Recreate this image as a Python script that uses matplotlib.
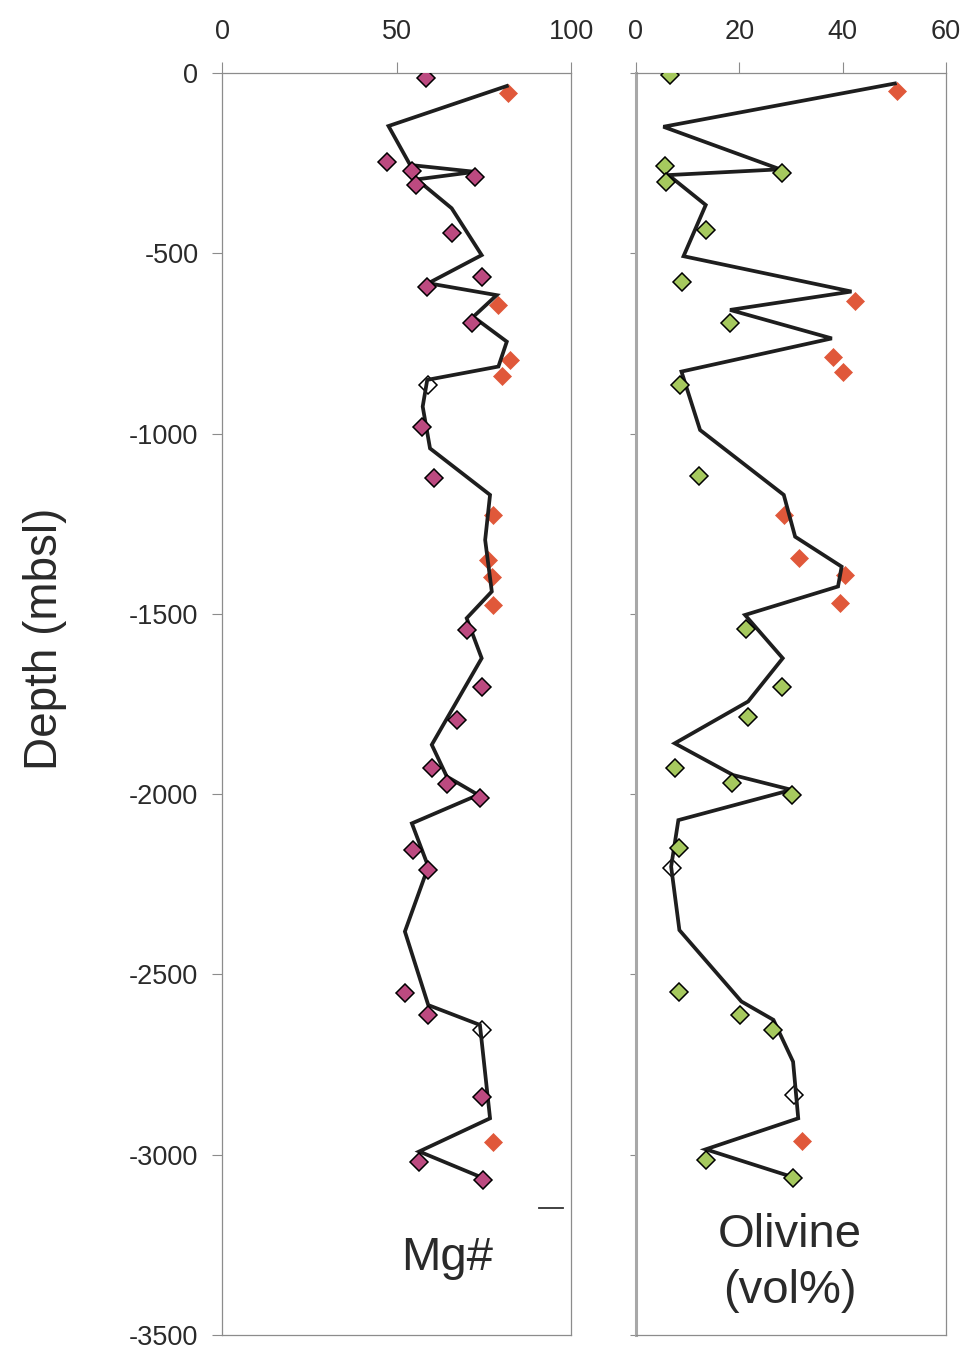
import matplotlib
matplotlib.use("Agg")
import matplotlib.pyplot as plt

plt.rcParams['font.family'] = ['Liberation Sans', 'DejaVu Sans']

# Mg# of whole-rock samples (filled pink), samples with open symbols, and
# high-Mg samples (red); depths in metres below sea level (negative)
mg_depth = [-13, -248, -272, -287, -311, -443, -565, -593, -694, -981, -1124,
            -1545, -1702, -1794, -1928, -1972, -2011, -2155, -2210, -2552,
            -2612, -2839, -3019, -3070]
mg_value = [58.4, 47.4, 54.5, 72.5, 55.5, 65.8, 74.4, 58.6, 71.5, 57.2, 60.6,
            70.1, 74.4, 67.2, 60.1, 64.4, 73.9, 54.6, 59.1, 52.4,
            59.1, 74.4, 56.5, 74.9]
mg_open_depth = [-865, -2654]
mg_open_value = [59.1, 74.4]
mg_red_depth = [-56, -643, -796, -839, -1226, -1350, -1397, -1475, -2964]
mg_red_value = [82.0, 79.2, 82.5, 80.1, 77.7, 76.3, 77.3, 77.7, 77.7]

# Mg# trend line
mg_line_depth = [-36, -147, -255, -274, -295, -375, -505, -583, -616, -676,
                 -745, -814, -851, -925, -1041, -1170, -1295, -1438, -1512,
                 -1623, -1863, -1951, -2002, -2081, -2201, -2381, -2585,
                 -2640, -2899, -2991, -3065]
mg_line_value = [81.6, 47.7, 53.9, 72.5, 55.8, 65.8, 74.4, 59.1, 78.7, 72.0,
                 81.6, 79.2, 58.8, 57.5, 59.6, 76.8, 75.4, 77.3, 70.1,
                 74.4, 60.1, 64.4, 73.4, 54.4, 59.1, 52.4, 59.1,
                 73.9, 76.8, 56.5, 74.9]

# Olivine modal abundance (vol%)
ol_depth = [-6, -258, -276, -301, -435, -580, -692, -865, -1118, -1543,
            -1702, -1787, -1928, -1968, -2002, -2150, -2550, -2612, -2654,
            -3014, -3065]
ol_value = [6.6, 5.6, 28.2, 5.9, 13.5, 9.0, 18.2, 8.5, 12.2, 21.3,
            28.2, 21.7, 7.5, 18.5, 30.1, 8.4, 8.4, 20.2, 26.6,
            13.5, 30.3]
ol_open_depth = [-2206, -2834]
ol_open_value = [6.9, 30.6]
ol_red_depth = [-49, -631, -787, -828, -1226, -1346, -1392, -1469, -2961]
ol_red_value = [50.6, 42.4, 38.2, 40.0, 28.6, 31.6, 40.4, 39.5, 32.1]

# Olivine trend line
ol_line_depth = [-29, -149, -267, -283, -366, -508, -606, -657, -736, -828,
                 -990, -1170, -1286, -1369, -1424, -1503, -1623, -1743,
                 -1859, -1947, -1988, -2072, -2201, -2377, -2575, -2626,
                 -2742, -2899, -2985, -3061]
ol_line_value = [50.1, 5.3, 27.9, 6.3, 13.5, 9.2, 41.7, 18.2, 37.9, 8.8,
                 12.4, 28.6, 30.8, 39.8, 39.1, 21.1, 28.4, 21.7,
                 7.5, 18.8, 30.1, 8.2, 6.8, 8.4, 20.4, 26.6,
                 30.4, 31.4, 13.5, 30.1]

mg_ticks = [0, 50, 100]
ol_ticks = [0, 20, 40, 60]
depth_ticks = [0, -500, -1000, -1500, -2000, -2500, -3000, -3500]

PINK = '#BC4A80'
GREEN = '#A6C95E'
RED = '#E0583A'
SPINE = '#8C8C8C'
TXT = '#2A2A2A'

fig = plt.figure(figsize=(9.67, 13.5), dpi=100)
fig.patch.set_facecolor('white')

ax1 = fig.add_axes([0.2296, 0.0111, 0.3609, 0.9348])
ax2 = fig.add_axes([0.6577, 0.0111, 0.3206, 0.9348])


def style_axis(ax, xticks, xlim, show_ylabels):
    ax.set_xlim(*xlim)
    ax.set_ylim(-3500, 0)
    ax.xaxis.set_ticks_position('top')
    ax.xaxis.set_label_position('top')
    ax.set_xticks(xticks)
    ax.set_xticklabels([str(t) for t in xticks])
    ax.set_yticks(depth_ticks)
    if show_ylabels:
        ax.set_yticklabels([str(t) for t in depth_ticks])
        ax.tick_params(axis='y', length=7, width=0.8, pad=10, color=SPINE,
                       labelsize=19.5, labelcolor=TXT, direction='out')
    else:
        ax.set_yticklabels([])
        ax.tick_params(axis='y', length=4, width=0.8, color=SPINE,
                       direction='out')
    ax.tick_params(axis='x', length=8, width=0.8, pad=12, color=SPINE,
                   labelsize=19.5, labelcolor=TXT, direction='out')
    for sp in ax.spines.values():
        sp.set_color(SPINE)
        sp.set_linewidth(0.9)


style_axis(ax1, mg_ticks, (0, 100), True)
style_axis(ax2, ol_ticks, (0, 60), False)
ax2.spines['left'].set_linewidth(2.2)
ax2.spines['left'].set_color('#A8A8A8')

mk = dict(linestyle='none', marker='D', markersize=9.5)

# Mg# panel
ax1.plot(mg_line_value, mg_line_depth, color='#1E1E1E', lw=2.7, zorder=2,
         solid_joinstyle='miter')
ax1.plot(mg_value, mg_depth, markerfacecolor=PINK, markeredgecolor='black',
         markeredgewidth=1.1, zorder=3, **mk)
ax1.plot(mg_open_value, mg_open_depth, markerfacecolor='white',
         markeredgecolor='black', markeredgewidth=1.1, zorder=1.5, **mk)
ax1.plot(mg_red_value, mg_red_depth, markerfacecolor=RED,
         markeredgecolor=RED, markeredgewidth=0.5, zorder=1.8, **mk)

# Olivine panel
ax2.plot(ol_line_value, ol_line_depth, color='#1E1E1E', lw=2.7, zorder=2,
         solid_joinstyle='miter')
ax2.plot(ol_value, ol_depth, markerfacecolor=GREEN, markeredgecolor='black',
         markeredgewidth=1.1, zorder=3, **mk)
ax2.plot(ol_open_value, ol_open_depth, markerfacecolor='white',
         markeredgecolor='black', markeredgewidth=1.1, zorder=1.5, **mk)
ax2.plot(ol_red_value, ol_red_depth, markerfacecolor=RED,
         markeredgecolor=RED, markeredgewidth=0.5, zorder=1.8, **mk)

# Panel titles at the foot of each column
ax1.text(0.645, 0.061, 'Mg#', transform=ax1.transAxes, ha='center',
         va='center', fontsize=34, color=TXT)
ax1.plot([0.908, 0.977], [0.1006, 0.1006], transform=ax1.transAxes,
         color='#333333', lw=1.3)
ax2.text(0.497, 0.079, 'Olivine', transform=ax2.transAxes, ha='center',
         va='center', fontsize=34, color=TXT)
ax2.text(0.497, 0.035, '(vol%)', transform=ax2.transAxes, ha='center',
         va='center', fontsize=34, color=TXT)

fig.text(0.0465, 0.527, 'Depth (mbsl)', rotation=90, ha='center',
         va='center', fontsize=33, color=TXT)

fig.savefig('out.png', dpi=100, facecolor='white')
